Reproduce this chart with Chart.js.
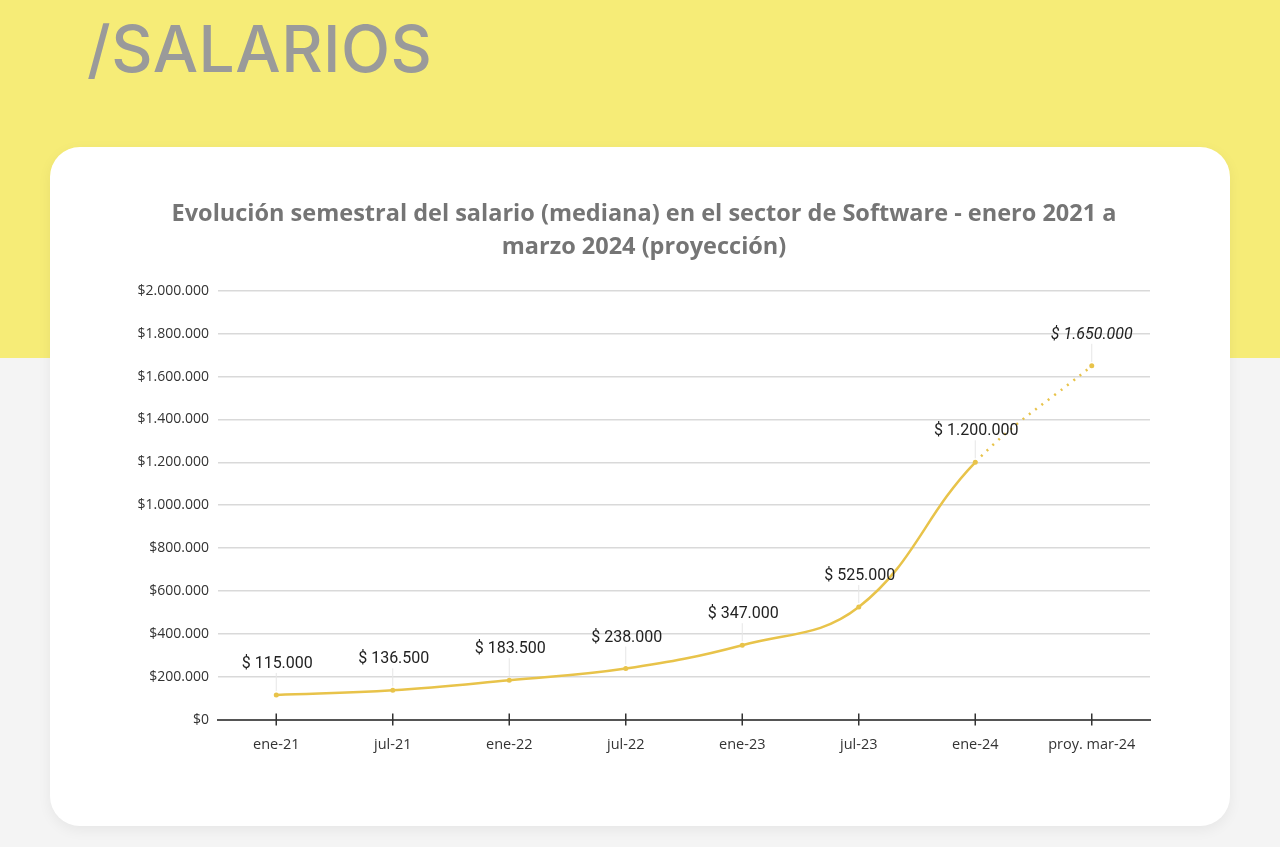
<!DOCTYPE html>
<html>
<head>
<meta charset="utf-8">
<script src="https://cdn.jsdelivr.net/npm/chart.js@4"></script>
<style>
  html, body { margin: 0; padding: 0; }
  body {
    width: 1280px; height: 847px; overflow: hidden; position: relative;
    background: linear-gradient(#f6ec77 0, #f6ec77 358px, #f4f4f4 358px);
  }
  .head {
    position: absolute; left: 87px; top: 10px;
    font-family: Inter, sans-serif; font-size: 64px; font-weight: 500; color: #9a9a9a;
    letter-spacing: 0.5px;
  }
  .card {
    position: absolute; left: 50px; top: 147px; width: 1180px; height: 679px;
    background: #fff; border-radius: 30px;
    box-shadow: 0 4px 14px rgba(0,0,0,0.06);
  }
  .card canvas { position: absolute; left: 0; top: 0; }
</style>
</head>
<body>
<div class="head">/SALARIOS</div>
<div class="card"><canvas id="c" width="1180" height="679"></canvas></div>
<script>
// datos
const labels = ['ene-21', 'jul-21', 'ene-22', 'jul-22', 'ene-23', 'jul-23', 'ene-24', 'proy. mar-24'];
const salarios = [115000, 136500, 183500, 238000, 347000, 525000, 1200000, 1650000];
const etiquetas = ['$ 115.000', '$ 136.500', '$ 183.500', '$ 238.000', '$ 347.000', '$ 525.000', '$ 1.200.000', '$ 1.650.000'];
const tituloLineas = ['Evolución semestral del salario (mediana) en el sector de Software - enero 2021 a', 'marzo 2024 (proyección)'];

const amarillo = '#e8c34a';

const fmt = v => '$' + v.toLocaleString('de-DE');

// etiquetas sobre los puntos con linea guia
const etiquetasPlugin = {
    id: 'etiquetas',
    afterDatasetsDraw(chart) {
        const ctx = chart.ctx;
        const meta = chart.getDatasetMeta(0);
        ctx.save();
        meta.data.forEach((pt, i) => {
            const proy = i === meta.data.length - 1;
            // linea guia
            ctx.strokeStyle = '#e6e6e6';
            ctx.lineWidth = 1;
            ctx.beginPath();
            ctx.moveTo(pt.x, pt.y - 4);
            ctx.lineTo(pt.x, pt.y - 22);
            ctx.stroke();
            ctx.font = (proy ? 'italic ' : '') + '16px Roboto';
            ctx.fillStyle = '#222';
            ctx.textAlign = 'center';
            ctx.textBaseline = 'middle';
            ctx.fillText(etiquetas[i], pt.x + (proy ? 0 : 1), pt.y - 31);
        });
        ctx.restore();
    }
};

// marcas que cruzan el eje x
const marcasPlugin = {
    id: 'marcas',
    afterDraw(chart) {
        const ctx = chart.ctx;
        const x = chart.scales.x;
        ctx.save();
        ctx.strokeStyle = '#333';
        ctx.lineWidth = 1.5;
        x.ticks.forEach((t, i) => {
            const px = x.getPixelForTick(i);
            ctx.beginPath();
            ctx.moveTo(px, x.top - 6);
            ctx.lineTo(px, x.top + 6);
            ctx.stroke();
        });
        ctx.restore();
    }
};

new Chart(document.getElementById('c'), {
    type: 'line',
    data: {
        labels: labels,
        datasets: [{
            data: salarios,
            borderColor: amarillo,
            backgroundColor: amarillo,
            borderWidth: 2.5,
            pointRadius: 2.5,
            pointBorderWidth: 0,
            tension: 0.4,
            segment: {
                borderDash: c => c.p1DataIndex === salarios.length - 1 ? [2, 6] : undefined
            }
        }]
    },
    options: {
        responsive: false,
        animation: false,
        layout: { padding: { left: 88, right: 80, top: 51, bottom: 63 } },
        plugins: {
            legend: { display: false },
            tooltip: { enabled: false },
            title: {
                display: true,
                text: tituloLineas,
                color: '#757575',
                font: { family: 'Open Sans', size: 23.5, weight: 'bold', lineHeight: 1.4 },
                padding: { top: 0, bottom: 27 }
            }
        },
        scales: {
            x: {
                offset: true,
                grid: { display: false },
                border: { color: '#555', width: 2 },
                ticks: { color: '#333', font: { family: 'Open Sans', size: 14.5 }, padding: 9, maxRotation: 0 }
            },
            y: {
                min: 0,
                max: 2000000,
                afterFit: s => { s.width = 80; },
                ticks: {
                    stepSize: 200000,
                    color: '#333',
                    font: { family: 'Open Sans', size: 14 },
                    padding: 9,
                    callback: v => fmt(v)
                },
                grid: { color: '#d9d9d9', lineWidth: 1.5, drawTicks: false },
                border: { display: false }
            }
        }
    },
    plugins: [etiquetasPlugin, marcasPlugin]
});
</script>
</body>
</html>
